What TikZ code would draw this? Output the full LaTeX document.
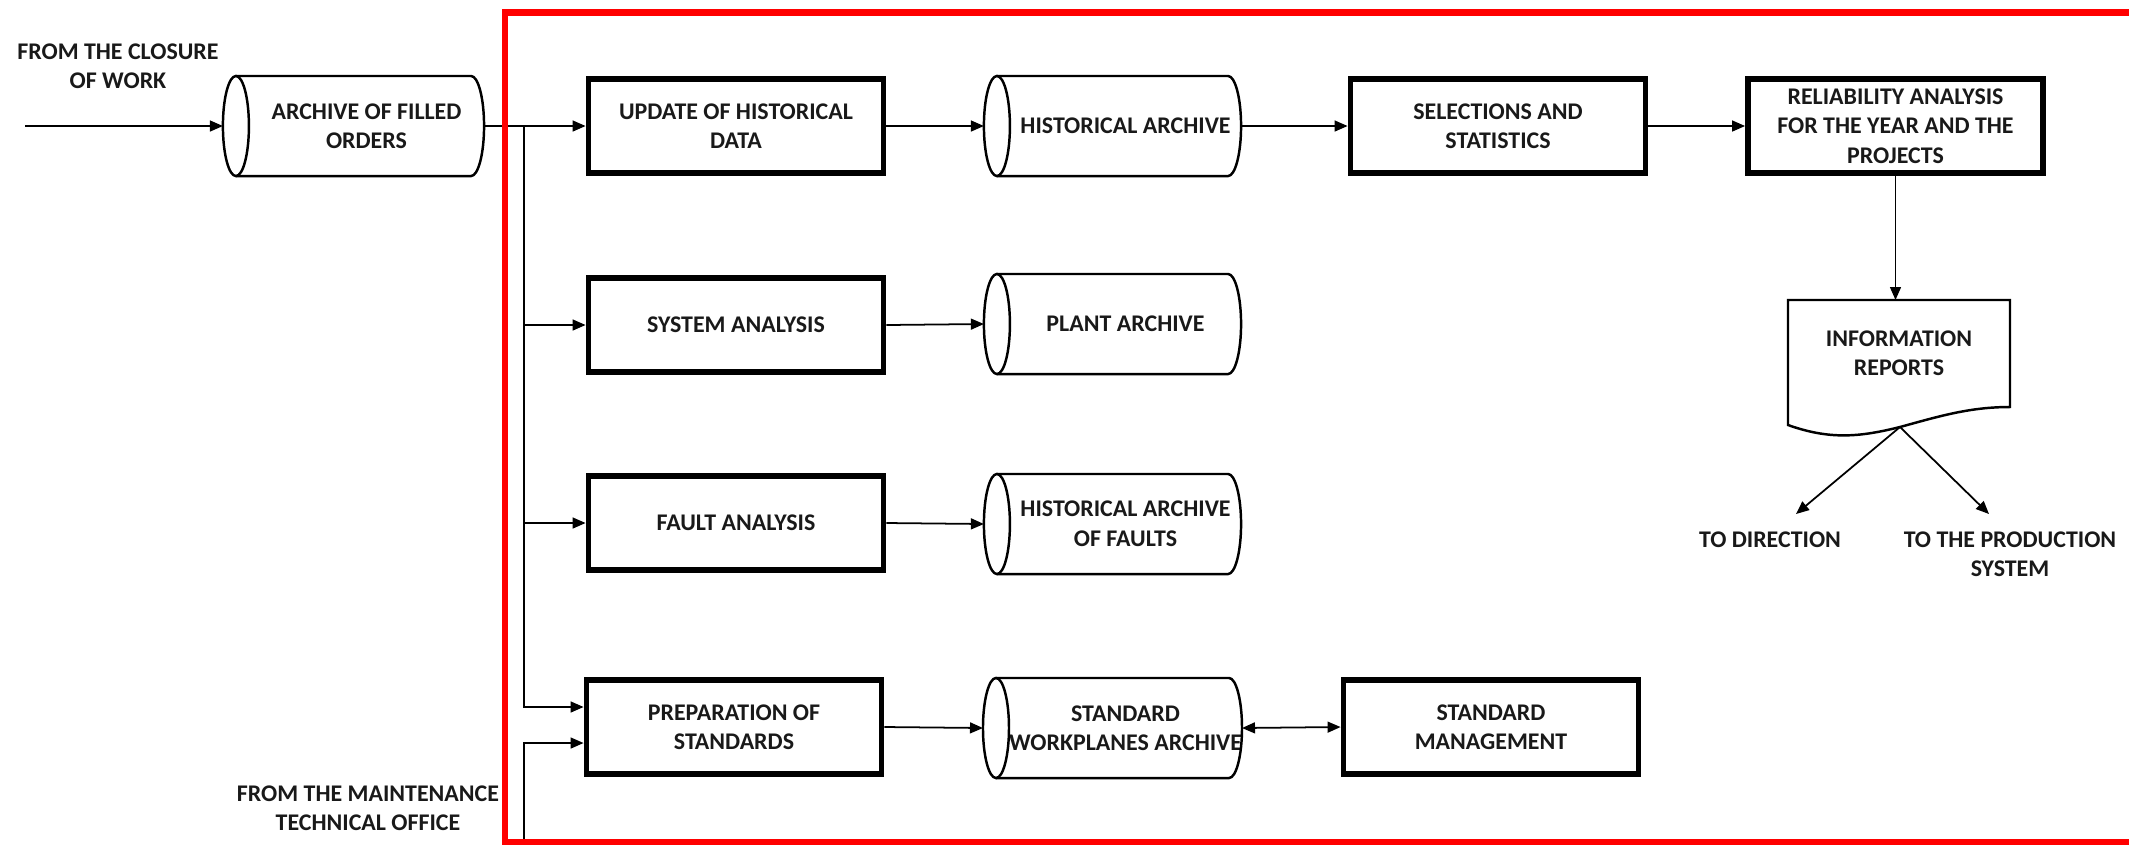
\documentclass[tikz,border=0pt]{standalone}
\usepackage{fontspec}
\setmainfont{Carlito}
\usetikzlibrary{arrows.meta}

% outline of a horizontal archive drum: full ellipse on the left, half ellipse on the right;
% the node itself spans from the right edge of the left ellipse to the far right end
\newcommand\drumoutline[1]{%
  \draw[drum] ([xshift=-0.13cm]#1.north west) -- ([xshift=-0.13cm]#1.north east)
    arc[start angle=90, end angle=-90, x radius=0.13cm, y radius=0.5cm]
    -- ([xshift=-0.13cm]#1.south west);
  \draw[drum] ([xshift=-0.13cm]#1.west) ellipse[x radius=0.13cm, y radius=0.5cm];
}

\tikzset{arrowhd/.tip={Triangle[length=3.7pt, width=3.1pt]}}

\begin{document}
\begin{tikzpicture}[x=0.01cm, y=-0.01cm,
  lbl/.style={font=\fontsize{6.8}{8.4}\selectfont\bfseries, align=center, text=black!90},
  proc/.style={lbl, draw, line width=1.6pt, minimum width=2.95cm, minimum height=0.94cm, inner sep=1pt},
  store/.style={lbl, minimum width=2.31cm, minimum height=1.0cm, inner sep=0pt, outer sep=0pt},
  drum/.style={line width=0.7pt},
  flow/.style={line width=0.5pt, -{arrowhd}},
  both/.style={line width=0.5pt, {arrowhd}-{arrowhd}},
]
\useasboundingbox (0,0) rectangle (2129,844);

% ---- row 1 ----
\node[lbl] (closure) at (118,66) {FROM THE CLOSURE\\OF WORK};
\coordinate (in) at (25,126);
\node[store, minimum width=2.35cm] (arch) at (366.5,126) {ARCHIVE OF FILLED\\ORDERS};
\node[proc] (upd) at (736,126) {UPDATE OF HISTORICAL\\DATA};
\node[store] (hist) at (1125.5,126) {HISTORICAL ARCHIVE};
\node[proc] (sel) at (1498,126) {SELECTIONS AND\\STATISTICS};
\node[proc] (rel) at (1895.5,126) {RELIABILITY ANALYSIS\\FOR THE YEAR AND THE\\PROJECTS};

% ---- rows 2 to 4 ----
\node[proc] (sys) at (736,325) {SYSTEM ANALYSIS};
\node[store] (plant) at (1125.5,324) {PLANT ARCHIVE};
\node[proc] (fault) at (736,523) {FAULT ANALYSIS};
\node[store] (hfault) at (1125.5,524) {HISTORICAL ARCHIVE\\OF FAULTS};
\node[proc] (prep) at (734,727) {PREPARATION OF\\STANDARDS};
\node[store] (std) at (1125.5,728) {STANDARD\\WORKPLANES ARCHIVE};
\node[proc] (mgmt) at (1491,727) {STANDARD\\MANAGEMENT};
\node[lbl] (maint) at (368,808) {FROM THE MAINTENANCE\\TECHNICAL OFFICE};
\coordinate (maintin) at (524,850);

% ---- report document ----
\node[lbl] (rep) at (1899,353) {INFORMATION\\REPORTS};
\draw[drum] (1788,425) -- (1788,300) -- (2010,300) -- (2010,407)
  .. controls (1970,407) and (1940,416) .. (1900,427)
  .. controls (1860,437) and (1830,440) .. (1788,425) -- cycle;
\coordinate (reptop) at (1898,300);
\coordinate (repbot) at (1900,427);
\node[lbl] (dir) at (1770,540) {TO DIRECTION};
\node[lbl] (prod) at (2010,554) {TO THE PRODUCTION\\SYSTEM};
\coordinate (dirtip) at (1796,514);
\coordinate (prodtip) at (1989,514);

% ---- drums ----
\drumoutline{arch}
\drumoutline{hist}
\drumoutline{plant}
\drumoutline{hfault}
\drumoutline{std}

% ---- connectors ----
\coordinate (split) at (524,126);
\draw[flow] (in) -- ([xshift=-0.26cm]arch.west);
\draw[flow] (arch.east) -- (upd.west);
\draw[flow] (split) |- (sys.west);
\draw[flow] (split) |- (fault.west);
\draw[flow] (split) |- ([yshift=0.2cm]prep.west);
\draw[flow] (maintin) |- ([yshift=-0.16cm]prep.west);

\draw[flow] (upd.east) -- ([xshift=-0.26cm]hist.west);
\draw[flow] (hist.east) -- (sel.west);
\draw[flow] (sel.east) -- (rel.west);
\draw[flow] (rel.south) -- (rel.south |- reptop);
\draw[flow] (repbot) -- (dirtip);
\draw[flow] (repbot) -- (prodtip);

\draw[flow] (sys.east) -- ([xshift=-0.26cm]plant.west);
\draw[flow] (fault.east) -- ([xshift=-0.26cm]hfault.west);
\draw[flow] (prep.east) -- ([xshift=-0.26cm]std.west);
\draw[both] (std.east) -- (mgmt.west);

% ---- red frame ----
\begin{scope}
  \clip (0,0) rectangle (2129,844);
  \draw[red, line width=0.065cm] (2150,12.5) -- (505,12.5) -- (505,842.5) -- (2150,842.5);
\end{scope}
\end{tikzpicture}
\end{document}
